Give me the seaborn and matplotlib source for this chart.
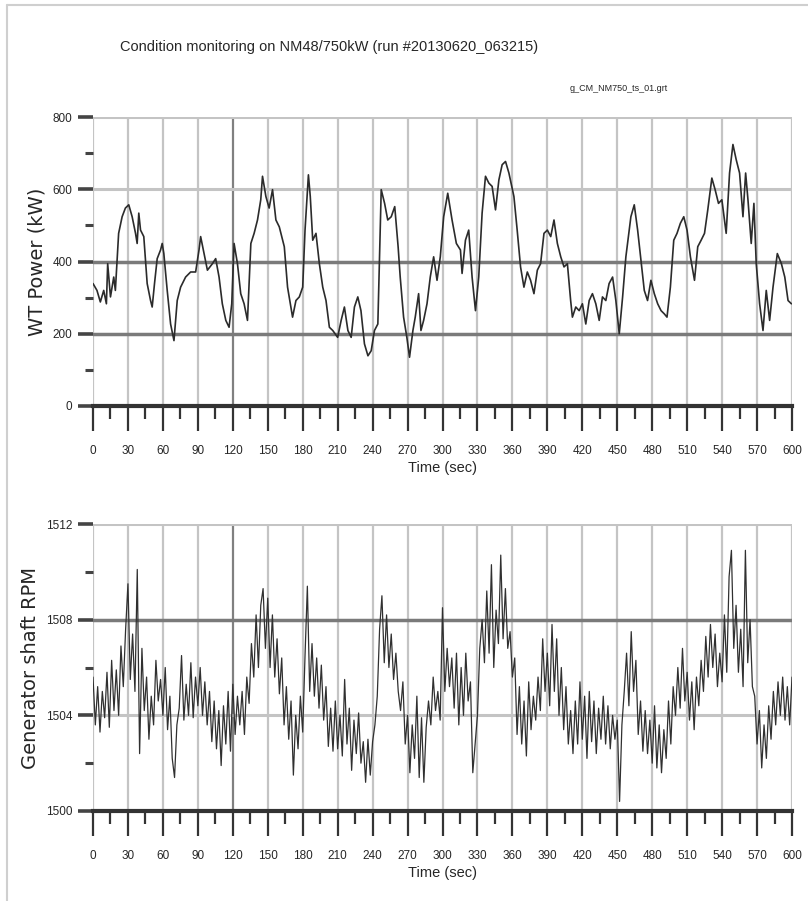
import numpy as np
import pandas as pd
import matplotlib
matplotlib.use('Agg')
import matplotlib.pyplot as plt
from matplotlib.lines import Line2D
from matplotlib.ticker import MultipleLocator
from matplotlib import font_manager
import seaborn as sns

# --- data ---
power_time = [0, 3.4, 6.3, 9.2, 11.5, 12.6, 15, 17.8, 19.2, 22, 25, 27.8, 30.7, 33.6, 36.5, 37.9,
              39.3, 40.8, 43.6, 46.5, 49.4, 50.8, 52.8, 55.1, 58, 59.4, 60.8, 63.7, 66.6, 69.5,
              72.3, 75.2, 79.5, 83.8, 88.1, 91, 92.4, 95.3, 98.2, 102.5, 105.3, 108.2, 111, 114,
              116.8, 119.1, 121.1, 124, 126.8, 129.7, 132.6, 135.5, 138.3, 141.2, 144, 145.5,
              148.4, 151.2, 154.1, 157, 159.9, 164.2, 167, 171.3, 174.2, 177.1, 180, 182, 184.9,
              186.5, 188.6, 191.4, 194.3, 197.2, 200, 202.9, 205.8, 210, 213, 215.8, 218.8, 221.6,
              224.4, 227.3, 230, 233, 236, 238.8, 241.6, 244.5, 247.4, 250.3, 253, 256, 259,
              261.9, 263.7, 266.6, 269.4, 271.7, 274.6, 276.6, 279.5, 281.5, 283.8, 286.7, 289.5,
              292.4, 295.3, 298.1, 301, 304.5, 308.2, 311.9, 315.4, 316.8, 319.7, 322.5, 325.4,
              328.3, 331.1, 334, 336.9, 339.8, 342.6, 345.5, 348.4, 351.2, 354.1, 357, 361.3,
              364.1, 367, 369.9, 372.8, 375.6, 378.5, 381.4, 384.2, 387.1, 390, 392.9, 395.7,
              398.6, 401.5, 404.3, 407.2, 410, 411.5, 414.4, 417.3, 420.1, 423, 425.9, 428.7,
              431.6, 434.5, 437.3, 440.2, 443, 446, 448.8, 451.7, 454.6, 457.4, 461.7, 464.6,
              467.5, 470.3, 473.2, 476, 478.9, 481.8, 484.7, 487.6, 490.4, 492.7, 495.6, 498.5,
              501.3, 504.2, 507.1, 509.9, 512.8, 516.3, 519.1, 522, 524.9, 527.7, 531.2, 534,
              536.9, 539.8, 543.5, 546.4, 549.3, 552.1, 555, 557.9, 560.2, 562.2, 565, 567.3,
              569.3, 572.2, 575.1, 577.9, 580.8, 583.7, 587.4, 590.9, 593.8, 596.6, 599.5]
power_kw = [339, 320, 288, 320, 283, 394, 302, 357, 320, 478, 524, 548, 557, 524, 478, 450,
            534, 487, 469, 339, 292, 274, 339, 408, 432, 450, 422, 320, 227, 181,
            292, 329, 357, 371, 371, 432, 469, 422, 376, 394, 408, 357, 283, 237,
            218, 283, 450, 394, 311, 283, 237, 450, 478, 515, 571, 636,
            580, 548, 599, 515, 496, 441, 329, 246, 292, 302, 329, 487, 640,
            580, 459, 478, 394, 329, 292, 218, 209, 190, 237, 274, 209, 190,
            274, 302, 264, 172, 139, 153, 209, 227, 599, 561, 515, 524, 552,
            441, 357, 246, 190, 135, 209, 246, 311, 209, 237, 283, 357,
            413, 348, 413, 524, 589, 515, 450, 432, 367, 459, 487, 357,
            264, 357, 534, 636, 617, 608, 543, 626, 668, 677, 645, 580,
            487, 385, 329, 371, 348, 311, 376, 394, 478, 487, 469, 515,
            450, 413, 385, 394, 292, 246, 274, 264, 283, 227, 292, 311,
            283, 237, 302, 292, 339, 357, 292, 200, 302, 413, 524, 557,
            487, 404, 320, 292, 348, 311, 283, 264, 255, 246, 329, 459,
            478, 506, 524, 487, 413, 348, 441, 459, 478, 543, 631, 599,
            561, 571, 478, 645, 724, 682, 645, 524, 645, 571, 450, 561,
            394, 283, 209, 320, 237, 329, 422, 394, 357, 292, 283]

rpm_time = list(range(0, 601, 2))
rpm_value = [
    1505.6, 1503.6, 1505.2, 1503.3, 1505.0, 1503.9, 1505.8, 1503.5, 1506.3, 1504.2, 1505.9, 1504.0, 1506.9, 1505.2, 1507.6,
    1509.5, 1505.5, 1507.4, 1505.0, 1510.1, 1502.4, 1506.8, 1504.2, 1505.6, 1503.0, 1504.8, 1503.6, 1506.3, 1504.6, 1505.5,
    1504.0, 1506.0, 1503.4, 1504.8, 1502.2, 1501.4, 1503.6, 1504.3, 1506.5, 1503.8, 1505.3, 1504.0, 1506.2, 1503.9, 1505.6,
    1504.4, 1506.0, 1504.0, 1505.4, 1503.6, 1505.0, 1502.9, 1504.6, 1502.6, 1504.2, 1501.9, 1504.4, 1502.8, 1505.0, 1502.5,
    1505.3, 1503.2, 1504.8, 1503.6, 1505.0, 1503.2, 1505.6, 1504.5, 1507.0, 1505.6, 1508.2, 1506.0, 1508.6, 1509.3, 1506.8,
    1508.9, 1506.0, 1508.2, 1505.6, 1507.2, 1504.9, 1506.4, 1503.6, 1505.2, 1503.0, 1504.6, 1501.5, 1504.0, 1502.6, 1504.8,
    1503.3, 1506.5, 1509.4, 1505.0, 1507.0, 1504.8, 1506.4, 1504.3, 1506.1, 1503.8, 1505.2, 1502.7, 1504.3, 1502.5, 1504.6,
    1502.6, 1504.0, 1502.3, 1505.5, 1502.8, 1504.3, 1501.7, 1503.8, 1502.4, 1504.1, 1502.0, 1502.9, 1501.2, 1503.0, 1501.5,
    1502.9, 1503.6, 1504.8, 1507.6, 1509.0, 1506.2, 1508.2, 1506.0, 1507.4, 1505.5, 1506.6, 1505.0, 1504.2, 1505.4, 1502.8,
    1504.0, 1501.6, 1503.6, 1502.2, 1504.8, 1501.4, 1503.9, 1501.2, 1503.5, 1504.6, 1503.6, 1505.6, 1504.2, 1505.0, 1503.8,
    1508.5, 1505.0, 1506.8, 1505.2, 1506.4, 1504.3, 1506.6, 1503.6, 1506.0, 1504.0, 1506.6, 1504.6, 1505.4, 1501.6, 1502.8,
    1504.0, 1506.8, 1508.0, 1506.2, 1509.2, 1506.6, 1510.3, 1506.0, 1508.4, 1507.0, 1510.7, 1507.2, 1509.3, 1506.8, 1507.5,
    1505.6, 1506.4, 1503.2, 1505.2, 1502.8, 1504.6, 1502.3, 1505.4, 1503.4, 1504.8, 1503.8, 1505.6, 1504.2, 1507.2, 1505.0,
    1506.6, 1504.4, 1507.8, 1505.0, 1507.2, 1504.0, 1506.0, 1503.4, 1505.2, 1502.8, 1504.2, 1502.4, 1504.6, 1502.8, 1505.4,
    1503.0, 1504.8, 1502.2, 1505.0, 1502.9, 1504.6, 1502.4, 1504.3, 1503.0, 1504.8, 1502.8, 1504.4, 1502.6, 1504.0, 1503.0,
    1503.8, 1500.4, 1503.6, 1505.0, 1506.6, 1504.4, 1507.5, 1505.0, 1506.3, 1503.2, 1504.6, 1502.5, 1504.2, 1502.4, 1503.8,
    1502.0, 1504.4, 1501.8, 1503.6, 1501.6, 1503.4, 1502.2, 1504.6, 1502.8, 1505.2, 1504.0, 1506.0, 1504.3, 1506.8, 1504.6,
    1505.8, 1503.8, 1505.4, 1503.4, 1505.6, 1504.4, 1506.3, 1505.0, 1507.3, 1505.6, 1507.8, 1506.0, 1507.4, 1505.2, 1506.6,
    1505.4, 1508.2, 1505.8, 1509.8, 1510.9, 1506.8, 1508.6, 1505.8, 1507.6, 1505.2, 1510.9, 1506.2, 1508.0, 1505.2, 1504.8,
    1502.8, 1504.2, 1501.8, 1503.6, 1502.2, 1504.4, 1503.0, 1505.0, 1503.6, 1505.4, 1504.0, 1505.6, 1503.8, 1505.2, 1503.6,
    1505.6]

title = 'Condition monitoring on NM48/750kW (run #20130620_063215)'
subtitle = 'g_CM_NM750_ts_01.grt'

sns.set_style('white')
names = {f.name for f in font_manager.fontManager.ttflist}
narrow = 'Liberation Sans Narrow' if 'Liberation Sans Narrow' in names else 'Liberation Sans'
plt.rcParams['font.family'] = [narrow, 'DejaVu Sans']

fig = plt.figure(figsize=(8.08, 9.01), dpi=100)
ax1 = fig.add_axes([0.1151, 0.5494, 0.8651, 0.3207])
ax2 = fig.add_axes([0.1151, 0.0999, 0.8651, 0.3185])


def style_axis(ax, ymin, ymax, ymajor, yminor, dark_levels, light_levels, ylabel):
    ax.set_xlim(0, 600)
    ax.set_ylim(ymin, ymax)
    for s in ['top', 'right', 'left']:
        ax.spines[s].set_visible(False)
    ax.spines['bottom'].set_color('#333333')
    ax.spines['bottom'].set_linewidth(3)
    # vertical grid every 30 s
    for t in range(0, 601, 30):
        c = '#808080' if t == 120 else '#c4c4c4'
        ax.axvline(t, color=c, lw=1.6, zorder=0)
    for lv in light_levels:
        ax.axhline(lv, color='#c4c4c4', lw=2.2, zorder=0)
    for lv in dark_levels:
        ax.axhline(lv, color='#7a7a7a', lw=2.5, zorder=0)
    ax.xaxis.set_major_locator(MultipleLocator(30))
    ax.xaxis.set_minor_locator(MultipleLocator(15))
    ax.yaxis.set_major_locator(MultipleLocator(ymajor))
    ax.yaxis.set_minor_locator(MultipleLocator(yminor))
    ax.tick_params(axis='x', which='major', direction='out', length=18, width=1.6,
                   color='#333333', labelsize=8.5, pad=10, bottom=True)
    ax.tick_params(axis='x', which='minor', direction='out', length=9, width=1.6,
                   color='#333333', bottom=True)
    ax.tick_params(axis='y', which='major', direction='out', length=11, width=2.6,
                   color='#444444', labelsize=8.5, pad=4, left=True)
    ax.tick_params(axis='y', which='minor', direction='out', length=6, width=2.2,
                   color='#444444', left=True)
    ax.set_xlabel('Time (sec)', fontsize=10.5, labelpad=3)
    ax.set_ylabel(ylabel, fontsize=14, family=['DejaVu Sans'], labelpad=4)


sns.lineplot(x=power_time, y=power_kw, ax=ax1, color='#2b2b2b', lw=1.2)
style_axis(ax1, 0, 800, 200, 100, [200, 400], [600, 800], 'WT Power (kW)')

sns.lineplot(x=rpm_time, y=rpm_value, ax=ax2, color='#303030', lw=0.9)
style_axis(ax2, 1500, 1512, 4, 2, [1508], [1504, 1512], 'Generator shaft RPM')
ax2.set_yticks([1500, 1504, 1508, 1512])

fig.text(0.149, 0.948, title, fontsize=10.5, ha='left', va='center')
fig.text(0.827, 0.902, subtitle, fontsize=6.5, ha='right', va='center')

# faint page frame
fig.add_artist(Line2D([0.009, 0.009], [0, 0.994], color='#cfcfcf', lw=1.5))
fig.add_artist(Line2D([0.009, 1], [0.994, 0.994], color='#cfcfcf', lw=1.5))

fig.savefig('out.png', dpi=100)
